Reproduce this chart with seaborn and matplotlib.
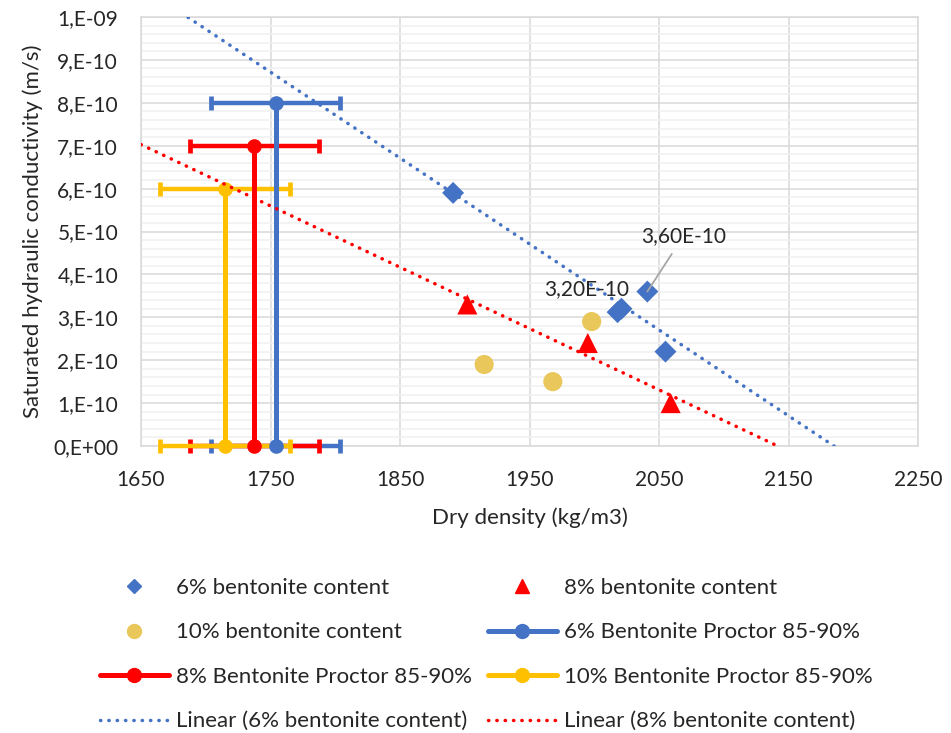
import numpy as np
import pandas as pd
import matplotlib.pyplot as plt
import seaborn as sns
from matplotlib.lines import Line2D
from matplotlib.ticker import MultipleLocator, FuncFormatter

# data
dens_6 = [1891, 2018, 2021, 2041, 2055]
k_6 = [5.9e-10, 3.12e-10, 3.2e-10, 3.6e-10, 2.2e-10]
dens_8 = [1902, 1995, 2059]
k_8 = [3.3e-10, 2.4e-10, 1.0e-10]
dens_10 = [1915, 1968, 1998]
k_10 = [1.9e-10, 1.5e-10, 2.9e-10]

proctor_names = ["6% Bentonite Proctor 85-90%", "8% Bentonite Proctor 85-90%",
                 "10% Bentonite Proctor 85-90%"]
proctor_dens = [1754, 1737.5, 1715]
proctor_k = [8e-10, 7e-10, 6e-10]
proctor_err = [50, 50, 50]

x_ticks = [1650, 1750, 1850, 1950, 2050, 2150, 2250]

BLUE = "#4472C4"
RED = "#FF0000"
GOLD = "#FFC000"
MUSTARD = "#EAC75A"

sns.set_style("white")
plt.rcParams["font.family"] = ["Lato", "DejaVu Sans"]
plt.rcParams["font.size"] = 15

df6 = pd.DataFrame({"dens": dens_6, "k": k_6})
df8 = pd.DataFrame({"dens": dens_8, "k": k_8})
df10 = pd.DataFrame({"dens": dens_10, "k": k_10})

fig = plt.figure(figsize=(9.51, 7.33), dpi=100)
ax = fig.add_axes([141 / 951, 1 - 446 / 733, 777 / 951, 429 / 733])
ax.set_xlim(x_ticks[0], x_ticks[-1])
ax.set_ylim(0, 1e-9)

# grid
ax.set_xticks(x_ticks)
ax.yaxis.set_major_locator(MultipleLocator(1e-10))
ax.yaxis.set_minor_locator(MultipleLocator(2e-11))
ax.grid(which="major", color="#D9D9D9", lw=1.1, zorder=0)
ax.grid(which="minor", axis="y", color="#F0F0F0", lw=1.1, zorder=0)
ax.set_axisbelow(True)
for sp in ax.spines.values():
    sp.set_color("#D9D9D9")
    sp.set_linewidth(1.1)
ax.tick_params(which="both", length=0)
ax.tick_params(axis="y", pad=16.5)
ax.tick_params(axis="x", pad=17.5)
ax.yaxis.set_major_formatter(FuncFormatter(lambda v, p: format(v, ".0E").replace("E", ",E")))

# proctor series with horizontal error bars
for name, x, y, e, c in zip(proctor_names, proctor_dens, proctor_k, proctor_err, [BLUE, RED, GOLD]):
    ax.errorbar([x, x], [0, y], xerr=e, fmt="-o", color=c, lw=3.6, ms=9.5,
                elinewidth=3.2, capsize=5, capthick=3.4, clip_on=False, zorder=3)

# scatter series
sns.scatterplot(data=df6, x="dens", y="k", ax=ax, marker="D", s=125, color=BLUE,
                edgecolor="none", zorder=4)
sns.scatterplot(data=df8, x="dens", y="k", ax=ax, marker="^", s=210, color=RED,
                edgecolor="none", zorder=4)
sns.scatterplot(data=df10, x="dens", y="k", ax=ax, marker="o", s=190, color=MUSTARD,
                edgecolor="none", zorder=4)

# linear trendlines
dot = dict(lw=2.5, ls=(0, (0.1, 2.3)), dash_capstyle="round", zorder=5)
sns.regplot(data=df6, x="dens", y="k", ax=ax, scatter=False, ci=None, truncate=False,
            color=BLUE, line_kws=dot)
sns.regplot(data=df8, x="dens", y="k", ax=ax, scatter=False, ci=None, truncate=False,
            color=RED, line_kws=dot)
ax.set_xlim(x_ticks[0], x_ticks[-1])
ax.set_ylim(0, 1e-9)

# data labels
def lab(v):
    return format(v, ".2E").replace(".", ",")

ax.annotate(lab(k_6[2]), xy=(dens_6[2], k_6[2]), xytext=(-25, 14),
            textcoords="offset points", ha="center", va="center", fontsize=15, zorder=6)
ax.annotate(lab(k_6[3]), xy=(dens_6[3], k_6[3]), xytext=(26, 40),
            textcoords="offset points", ha="center", va="center", fontsize=15, zorder=6,
            arrowprops=dict(arrowstyle="-", color="#A6A6A6", lw=1.3, shrinkA=4, shrinkB=0))

ax.set_xlabel("Dry density (kg/m3)", va="center", fontsize=16)
ax.xaxis.set_label_coords(0.5, -0.168)
ax.set_ylabel("Saturated hydraulic conductivity (m/s)", va="center", fontsize=16)
ax.yaxis.set_label_coords(-0.139, 0.5)

# legend, filled column by column
h_s6 = Line2D([], [], ls="none", marker="D", ms=7, color=BLUE)
h_s8 = Line2D([], [], ls="none", marker="^", ms=10, color=RED)
h_s10 = Line2D([], [], ls="none", marker="o", ms=10, color=MUSTARD)
h_p6 = Line2D([], [], color=BLUE, lw=3.6, marker="o", ms=10)
h_p8 = Line2D([], [], color=RED, lw=3.6, marker="o", ms=10)
h_p10 = Line2D([], [], color=GOLD, lw=3.6, marker="o", ms=10)
h_l6 = Line2D([], [], color=BLUE, **dot)
h_l8 = Line2D([], [], color=RED, **dot)
handles = [h_s6, h_s10, h_p8, h_l6, h_s8, h_p6, h_p10, h_l8]
labels = ["6% bentonite content", "10% bentonite content", proctor_names[1],
          "Linear (6% bentonite content)", "8% bentonite content", proctor_names[0],
          proctor_names[2], "Linear (8% bentonite content)"]
fig.legend(handles, labels, ncol=2, loc="upper left", bbox_to_anchor=(100 / 951, 1 - 578 / 733),
           frameon=False, borderpad=0, borderaxespad=0, handlelength=3.1, handletextpad=0.32,
           columnspacing=0.72, labelspacing=1.1, fontsize=16)

fig.savefig("out.png", dpi=100)
